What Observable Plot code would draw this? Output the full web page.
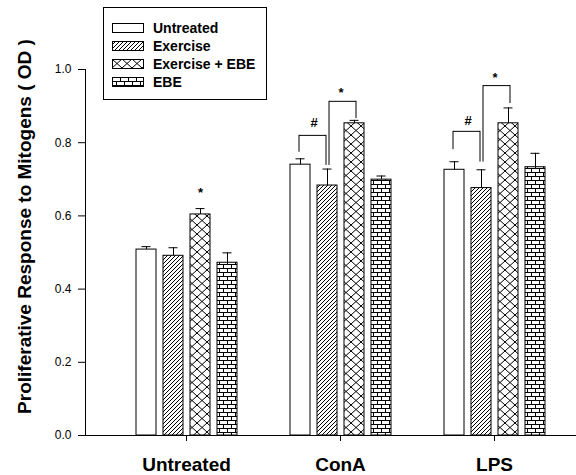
<!DOCTYPE html>
<html>
<head>
<meta charset="utf-8">
<script src="https://cdn.jsdelivr.net/npm/d3@7"></script>
<script src="https://cdn.jsdelivr.net/npm/@observablehq/plot@0.6"></script>
<style>
  html, body { margin: 0; padding: 0; background: #fff; }
  #wrap { position: relative; width: 576px; height: 475px; font-family: "Liberation Sans", Arial, sans-serif; color: #000; }
  #wrap svg.layer { position: absolute; left: 0; top: 0; }
  #wrap svg.axes [aria-label^="x-axis"] text { font-weight: bold; font-size: 19px; }
  #legend { position: absolute; left: 103px; top: 7px; width: 162px; height: 91px; border: 1px solid #000; background: #fff; box-sizing: content-box; }
  #legend .row { position: absolute; left: 8px; height: 18px; display: flex; align-items: center; }
  #legend .row svg { display: block; margin-right: 9px; }
  #legend .row span { font-weight: bold; font-size: 14px; line-height: 18px; white-space: nowrap; }
</style>
</head>
<body>
<svg width="0" height="0" style="position:absolute">
  <defs>
    <pattern id="pat-hatch" patternUnits="userSpaceOnUse" width="4" height="4">
      <rect width="4" height="4" fill="#fff"/>
      <path d="M-1,1 L1,-1 M0,4 L4,0 M3,5 L5,3" stroke="#000" stroke-width="1"/>
    </pattern>
    <pattern id="pat-cross" patternUnits="userSpaceOnUse" width="10" height="9">
      <rect width="10" height="9" fill="#fff"/>
      <path d="M0,0 L10,9 M10,0 L0,9" stroke="#000" stroke-width="1"/>
    </pattern>
    <pattern id="pat-brick" patternUnits="userSpaceOnUse" width="8" height="8">
      <rect width="8" height="8" fill="#fff"/>
      <path d="M0,0.5 H8 M0,4.5 H8 M0.5,0.5 V4.5 M4.5,4.5 V8.5" stroke="#000" stroke-width="1"/>
    </pattern>
  </defs>
</svg>
<div id="wrap">
  <div id="legend"></div>
</div>
<script>
// ---- data ----
const categories = ["Untreated", "ConA", "LPS"];
const series = ["Untreated", "Exercise", "Exercise + EBE", "EBE"];
const meansUntreated = [0.508, 0.491, 0.604, 0.472];
const meansConA      = [0.740, 0.683, 0.853, 0.699];
const meansLPS       = [0.726, 0.676, 0.853, 0.733];
const errUntreated   = [0.008, 0.022, 0.016, 0.027];
const errConA        = [0.016, 0.045, 0.008, 0.010];
const errLPS         = [0.022, 0.050, 0.042, 0.038];
const yTicks = [0, 0.2, 0.4, 0.6, 0.8, 1.0];
const yTitle = "Proliferative Response to Mitogens ( OD )";
// significance brackets: category, from-series, to-series, leg bottoms, top, label, label y
const bracketCategory = ["ConA", "ConA", "LPS", "LPS"];
const bracketFrom     = ["Untreated", "Exercise", "Untreated", "Exercise"];
const bracketTo       = ["Exercise", "Exercise + EBE", "Exercise", "Exercise + EBE"];
const bracketFromY    = [0.774, 0.738, 0.781, 0.747];
const bracketToY      = [0.738, 0.866, 0.747, 0.907];
const bracketTopY     = [0.820, 0.913, 0.831, 0.956];
const bracketLabel    = ["#", "*", "#", "*"];
const bracketLabelY   = [0.853, 0.935, 0.861, 0.976];
// single-bar marker
const starCategory = ["Untreated"];
const starSeries   = ["Exercise + EBE"];
const starY        = [0.662];
const starLabel    = ["*"];

const fills = ["#ffffff", "url(#pat-hatch)", "url(#pat-cross)", "url(#pat-brick)"];

// ---- tables ----
const meansBy = {Untreated: meansUntreated, ConA: meansConA, LPS: meansLPS};
const errBy = {Untreated: errUntreated, ConA: errConA, LPS: errLPS};
const rows = categories.flatMap(c => series.map((s, i) => ({category: c, series: s, value: meansBy[c][i], err: errBy[c][i]})));
const brackets = bracketCategory.map((c, i) => ({category: c, from: bracketFrom[i], to: bracketTo[i], fromY: bracketFromY[i], toY: bracketToY[i], topY: bracketTopY[i], label: bracketLabel[i], labelY: bracketLabelY[i]}));
const legs = brackets.flatMap(b => [
  {category: b.category, series: b.from, y1: b.fromY, y2: b.topY, label: b.label},
  {category: b.category, series: b.to, y1: b.toY, y2: b.topY, label: b.label}
]);
const stars = starCategory.map((c, i) => ({category: c, series: starSeries[i], y: starY[i], label: starLabel[i]}));

// ---- layout ----
const W = 576, H = 475;
const margins = {marginLeft: 85, marginRight: 0, marginTop: 69, marginBottom: 40};
const groupBand = {paddingInner: 0.2987, paddingOuter: 0.2435, align: 0.627};
const font = "'Liberation Sans', Arial, sans-serif";

// axes layer
const axisMarks = [
  Plot.tickX(categories, {x: d => d, y1: 0, y2: 0, strokeOpacity: 0}),
  Plot.ruleY([0], {stroke: "#000"}),
  Plot.text([yTitle], {text: d => d, frameAnchor: "left", textAnchor: "middle", dx: -61, dy: -26, rotate: -90, fontSize: 19, fontWeight: "bold", fill: "#000"})
];
if (typeof Plot.axisY === "function") axisMarks.push(Plot.frame({anchor: "left", stroke: "#000"}));

const axes = Plot.plot({
  width: W, height: H, ...margins,
  style: {background: "transparent", fontFamily: font, fontSize: "12px", color: "#000", overflow: "visible"},
  x: {type: "band", domain: categories, ...groupBand, label: null, tickSize: 6, tickPadding: 16},
  y: {domain: [0, 1], ticks: yTicks, tickFormat: d3.format(".1f"), tickSize: 7, tickPadding: 7, label: null, line: true},
  marks: axisMarks
});
axes.classList.add("axes", "layer");

// bars layer
const isHash = d => d.label === "#";
const isStar = d => d.label === "*";
const bars = Plot.plot({
  width: W, height: H, ...margins,
  style: {background: "transparent", fontFamily: font, color: "#000", overflow: "visible"},
  fx: {domain: categories, ...groupBand, axis: null, label: null},
  x: {domain: series, paddingInner: 7 / 27, paddingOuter: 3.5 / 27, axis: null, label: null},
  y: {domain: [0, 1], axis: null, label: null},
  color: {type: "ordinal", domain: series, range: fills},
  marks: [
    Plot.barY(rows, {fx: "category", x: "series", y: "value", fill: "series", stroke: "#000", strokeWidth: 1}),
    Plot.ruleX(rows, {fx: "category", x: "series", y1: "value", y2: d => d.value + d.err, stroke: "#000"}),
    Plot.tickY(rows, {fx: "category", x: "series", y: d => d.value + d.err, insetLeft: 5.5, insetRight: 5.5, stroke: "#000"}),
    Plot.ruleX(legs.filter(isHash), {fx: "category", x: "series", y1: "y1", y2: "y2", dx: -1.5, stroke: "#000"}),
    Plot.link(brackets.filter(isHash), {fx: "category", x1: "from", x2: "to", y1: "topY", y2: "topY", dx: -1.5, stroke: "#000"}),
    Plot.ruleX(legs.filter(isStar), {fx: "category", x: "series", y1: "y1", y2: "y2", dx: 1.5, stroke: "#000"}),
    Plot.link(brackets.filter(isStar), {fx: "category", x1: "from", x2: "to", y1: "topY", y2: "topY", dx: 1.5, stroke: "#000"}),
    Plot.text(brackets, {fx: "category", x: "from", y: "labelY", text: "label", dx: 13.5, fontSize: 13, fontWeight: "bold", fill: "#000"}),
    Plot.text(stars, {fx: "category", x: "series", y: "y", text: "label", fontSize: 13, fontWeight: "bold", fill: "#000"})
  ]
});
bars.classList.add("layer");

const wrap = document.getElementById("wrap");
wrap.insertBefore(axes, wrap.firstChild);
wrap.insertBefore(bars, document.getElementById("legend"));

// legend
const legend = document.getElementById("legend");
series.forEach((s, i) => {
  const row = document.createElement("div");
  row.className = "row";
  row.style.top = (10.5 + i * 18.2) + "px";
  row.innerHTML = `<svg width="32" height="10"><rect x="0.5" y="0.5" width="31" height="9" fill="${fills[i]}" stroke="#000"/></svg><span>${s}</span>`;
  legend.appendChild(row);
});
</script>
</body>
</html>
